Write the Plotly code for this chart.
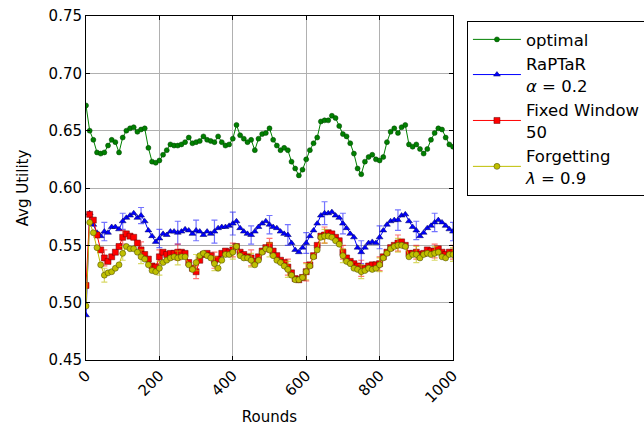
import plotly.graph_objects as go

rounds = list(range(0, 1001, 10))

optimal = [0.672, 0.650, 0.642, 0.631, 0.630, 0.631, 0.637, 0.642, 0.640, 0.631,
           0.644, 0.650, 0.652, 0.653, 0.649, 0.651, 0.652, 0.635, 0.623, 0.622,
           0.624, 0.629, 0.633, 0.638, 0.637, 0.637, 0.638, 0.640, 0.644, 0.639,
           0.640, 0.641, 0.645, 0.642, 0.641, 0.640, 0.645, 0.640, 0.637, 0.638,
           0.643, 0.655, 0.646, 0.643, 0.640, 0.642, 0.633, 0.643, 0.647, 0.648,
           0.652, 0.642, 0.637, 0.633, 0.635, 0.633, 0.623, 0.617, 0.611, 0.616,
           0.625, 0.633, 0.639, 0.644, 0.658, 0.659, 0.659, 0.663, 0.661, 0.654,
           0.647, 0.645, 0.639, 0.630, 0.617, 0.612, 0.623, 0.627, 0.629, 0.625,
           0.624, 0.627, 0.640, 0.649, 0.652, 0.648, 0.653, 0.655, 0.638, 0.636,
           0.638, 0.634, 0.630, 0.634, 0.642, 0.648, 0.652, 0.651, 0.644, 0.638,
           0.636]

raptar = [0.489, 0.578, 0.568, 0.561, 0.558, 0.562, 0.561, 0.566, 0.566, 0.564,
          0.571, 0.574, 0.576, 0.578, 0.574, 0.576, 0.571, 0.563, 0.558, 0.553,
          0.556, 0.560, 0.559, 0.562, 0.562, 0.561, 0.562, 0.564, 0.563, 0.560,
          0.563, 0.562, 0.559, 0.562, 0.560, 0.562, 0.565, 0.566, 0.566, 0.567,
          0.569, 0.571, 0.565, 0.562, 0.560, 0.559, 0.562, 0.566, 0.569, 0.571,
          0.568, 0.566, 0.565, 0.562, 0.560, 0.559, 0.552, 0.546, 0.544, 0.548,
          0.552, 0.558, 0.563, 0.569, 0.576, 0.578, 0.578, 0.579, 0.576, 0.574,
          0.569, 0.565, 0.560, 0.557, 0.548, 0.544, 0.548, 0.552, 0.553, 0.552,
          0.557, 0.563, 0.568, 0.571, 0.572, 0.572, 0.576, 0.577, 0.571, 0.566,
          0.563, 0.558, 0.561, 0.565, 0.567, 0.570, 0.572, 0.570, 0.567, 0.564,
          0.562]

fixed_window = [0.515, 0.577, 0.572, 0.559, 0.546, 0.539, 0.536, 0.540, 0.544, 0.549,
                0.557, 0.560, 0.558, 0.557, 0.552, 0.546, 0.542, 0.538, 0.532, 0.531,
                0.540, 0.544, 0.542, 0.543, 0.543, 0.544, 0.544, 0.543, 0.535, 0.530,
                0.527, 0.537, 0.542, 0.543, 0.541, 0.537, 0.538, 0.543, 0.545, 0.544,
                0.546, 0.549, 0.544, 0.542, 0.540, 0.539, 0.536, 0.540, 0.545, 0.548,
                0.550, 0.545, 0.541, 0.537, 0.535, 0.531, 0.526, 0.521, 0.520, 0.522,
                0.527, 0.533, 0.541, 0.550, 0.558, 0.559, 0.561, 0.560, 0.557, 0.554,
                0.544, 0.539, 0.536, 0.534, 0.532, 0.530, 0.530, 0.532, 0.533, 0.533,
                0.534, 0.540, 0.544, 0.548, 0.550, 0.552, 0.553, 0.550, 0.543, 0.543,
                0.544, 0.542, 0.543, 0.546, 0.545, 0.545, 0.547, 0.544, 0.542, 0.544,
                0.544]

forgetting = [0.497, 0.570, 0.561, 0.548, 0.533, 0.524, 0.526, 0.527, 0.530, 0.533,
              0.543, 0.549, 0.547, 0.547, 0.544, 0.540, 0.538, 0.533, 0.528, 0.527,
              0.530, 0.535, 0.537, 0.539, 0.540, 0.539, 0.540, 0.540, 0.533, 0.529,
              0.535, 0.541, 0.543, 0.541, 0.539, 0.534, 0.530, 0.537, 0.542, 0.542,
              0.544, 0.549, 0.541, 0.539, 0.539, 0.537, 0.533, 0.537, 0.544, 0.547,
              0.546, 0.541, 0.537, 0.535, 0.532, 0.529, 0.524, 0.520, 0.520, 0.522,
              0.527, 0.532, 0.540, 0.546, 0.557, 0.558, 0.558, 0.557, 0.554, 0.551,
              0.541, 0.536, 0.534, 0.530, 0.529, 0.527, 0.528, 0.530, 0.529, 0.530,
              0.533, 0.539, 0.543, 0.547, 0.549, 0.550, 0.550, 0.549, 0.540, 0.542,
              0.542, 0.539, 0.542, 0.543, 0.542, 0.543, 0.544, 0.540, 0.539, 0.542,
              0.542]

# error bar half-widths at rounds 50, 100, ..., 1000
err_raptar = [0.008, 0.007, 0.007, 0.008, 0.010, 0.009, 0.010, 0.010, 0.008, 0.008,
              0.009, 0.009, 0.010, 0.009, 0.010, 0.010, 0.009, 0.008, 0.008, 0.008]
err_fixed = [0.007, 0.006, 0.007, 0.006, 0.007, 0.006, 0.007, 0.006, 0.007, 0.006,
             0.007, 0.008, 0.007, 0.006, 0.007, 0.006, 0.007, 0.006, 0.006, 0.006]
err_forget = [0.006, 0.006, 0.006, 0.006, 0.006, 0.007, 0.006, 0.006, 0.006, 0.006,
              0.007, 0.007, 0.006, 0.006, 0.006, 0.006, 0.006, 0.007, 0.006, 0.006]

err_rounds = rounds[5::5]

FONT = "DejaVu Sans"

fig = go.Figure()

fig.add_trace(go.Scatter(
    x=rounds, y=optimal, mode="lines+markers", name="optimal",
    line=dict(color="#008000", width=1),
    marker=dict(symbol="circle", size=5, color="#008000",
                line=dict(color="#004000", width=0.5)),
))

series = [
    ("RaPTaR<br><i>α</i> = 0.2", raptar, err_raptar, "#0000ff", "triangle-up", 6, "#000060",
     "rgba(0,0,255,0.55)"),
    ("Fixed Window<br>50", fixed_window, err_fixed, "#ff0000", "square", 6, "#600000",
     "rgba(255,0,0,0.55)"),
    ("Forgetting<br><i>λ</i> = 0.9", forgetting, err_forget, "#bfbf00", "circle", 6, "#404000",
     "rgba(191,191,0,0.6)"),
]

for name, vals, errs, col, sym, sz, edge, ecol in series:
    fig.add_trace(go.Scatter(
        x=err_rounds, y=vals[5::5], mode="markers", showlegend=False,
        hoverinfo="skip",
        marker=dict(size=1, color="rgba(0,0,0,0)"),
        error_y=dict(type="data", array=errs, visible=True, color=ecol,
                     thickness=1.2, width=3),
    ))
    fig.add_trace(go.Scatter(
        x=rounds, y=vals, mode="lines+markers", name=name,
        line=dict(color=col, width=1),
        marker=dict(symbol=sym, size=sz, color=col, line=dict(color=edge, width=0.5)),
    ))

axis_common = dict(
    showgrid=True, gridcolor="#b0b0b0", gridwidth=1,
    showline=True, linecolor="black", linewidth=1, mirror="ticks",
    ticks="inside", ticklen=4, tickcolor="black",
    tickfont=dict(family=FONT, size=15, color="black"),
    zeroline=False,
)

fig.update_xaxes(
    range=[0, 1000], tickvals=[0, 200, 400, 600, 800, 1000], tickangle=-45,
    title=dict(text="Rounds", font=dict(family=FONT, size=15, color="black"), standoff=5),
    **axis_common,
)
fig.update_yaxes(
    range=[0.45, 0.75], tickvals=[0.45, 0.5, 0.55, 0.6, 0.65, 0.7, 0.75],
    tickformat=".2f",
    title=dict(text="Avg Utility", font=dict(family=FONT, size=15, color="black"), standoff=16),
    **axis_common,
)

fig.update_layout(
    width=644, height=430,
    margin=dict(l=86, r=191, t=16, b=70, autoexpand=False),
    paper_bgcolor="white", plot_bgcolor="white",
    font=dict(family=FONT, size=15, color="black"),
    legend=dict(
        x=1.038, y=0.985, xanchor="left", yanchor="top",
        bordercolor="black", borderwidth=1, bgcolor="white",
        font=dict(family=FONT, size=16.5, color="black"),
        tracegroupgap=7, itemwidth=48,
    ),
)

fig.write_html("out.html")
